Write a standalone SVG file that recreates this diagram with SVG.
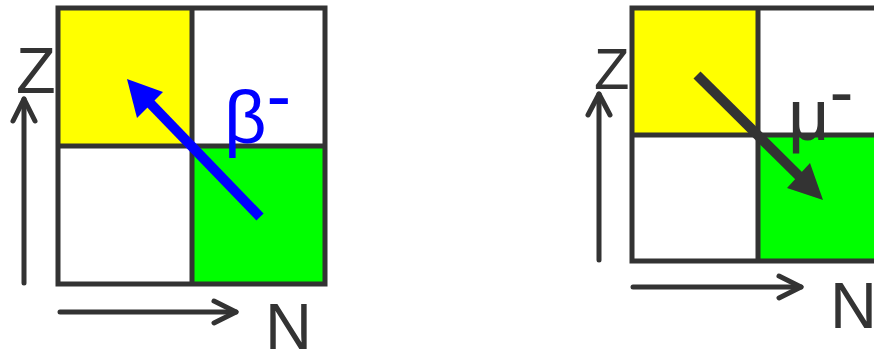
<svg xmlns="http://www.w3.org/2000/svg" width="874" height="353" viewBox="0 0 874 353">
<style>
.grid{stroke:#333;stroke-width:5;stroke-linecap:square}
.cellY{fill:#ffff00}
.cellG{fill:#00ff00}
.cellW{fill:#ffffff}
.ax{fill:none;stroke:#333;stroke-width:5;stroke-linecap:round;stroke-linejoin:round}
.lbl{font-family:"Liberation Sans",Arial,sans-serif;fill:#333}
</style>
<rect width="874" height="353" fill="#ffffff"/>
<g id="left-panel">
  <g id="left-axis-z">
    <text class="lbl" x="16" y="93" font-size="65">Z</text>
    <line class="ax" x1="24" y1="283" x2="24" y2="99"/>
    <polyline class="ax" points="13,121 24,99 35,121"/>
  </g>
  <g id="left-axis-n">
    <line class="ax" x1="60" y1="312" x2="236" y2="312"/>
    <polyline class="ax" points="214,301 236,312 214,323"/>
    <text class="lbl" x="265" y="349" font-size="65">N</text>
  </g>
  <g id="left-grid">
    <rect class="cellY" x="58" y="8" width="134" height="138"/>
    <rect class="cellW" x="192" y="8" width="133" height="138"/>
    <rect class="cellW" x="58" y="146" width="134" height="138"/>
    <rect class="cellG" x="192" y="146" width="133" height="138"/>
    <path class="grid" fill="none" d="M58,8H325V284H58Z M192,8V284 M58,146H325"/>
  </g>
  <g id="beta-arrow">
    <line x1="260" y1="217" x2="148" y2="101" stroke="#0000ff" stroke-width="10"/>
    <polygon points="127,79 137,118 163,92" fill="#0000ff"/>
  </g>
  <g id="beta-label">
    <text x="224" y="143" font-size="74" font-family="'Liberation Sans',Arial,sans-serif" fill="#0000ff">β<tspan dy="-22">-</tspan></text>
  </g>
</g>
<g id="right-panel">
  <g id="right-axis-z">
    <text class="lbl" x="594" y="89" font-size="58">Z</text>
    <line class="ax" x1="599" y1="260" x2="599" y2="94"/>
    <polyline class="ax" points="588,115 599,94 610,115"/>
  </g>
  <g id="right-axis-n">
    <line class="ax" x1="633" y1="287" x2="801" y2="287"/>
    <polyline class="ax" points="779,276 801,287 779,298"/>
    <text class="lbl" x="830" y="328" font-size="65">N</text>
  </g>
  <g id="right-grid">
    <rect class="cellY" x="632" y="8" width="126" height="127"/>
    <rect class="cellW" x="758" y="8" width="126" height="127"/>
    <rect class="cellW" x="632" y="135" width="126" height="126"/>
    <rect class="cellG" x="758" y="135" width="126" height="126"/>
    <path class="grid" fill="none" d="M632,8H884V261H632Z M758,8V261 M632,135H884"/>
  </g>
  <g id="mu-label">
    <text class="lbl" x="788" y="140" font-size="72">μ<tspan dy="-24">-</tspan></text>
  </g>
  <g id="mu-arrow">
    <line x1="697" y1="75" x2="800" y2="177" stroke="#333" stroke-width="10"/>
    <polygon points="823,200 787,188 810,163" fill="#333"/>
  </g>
</g>
</svg>
